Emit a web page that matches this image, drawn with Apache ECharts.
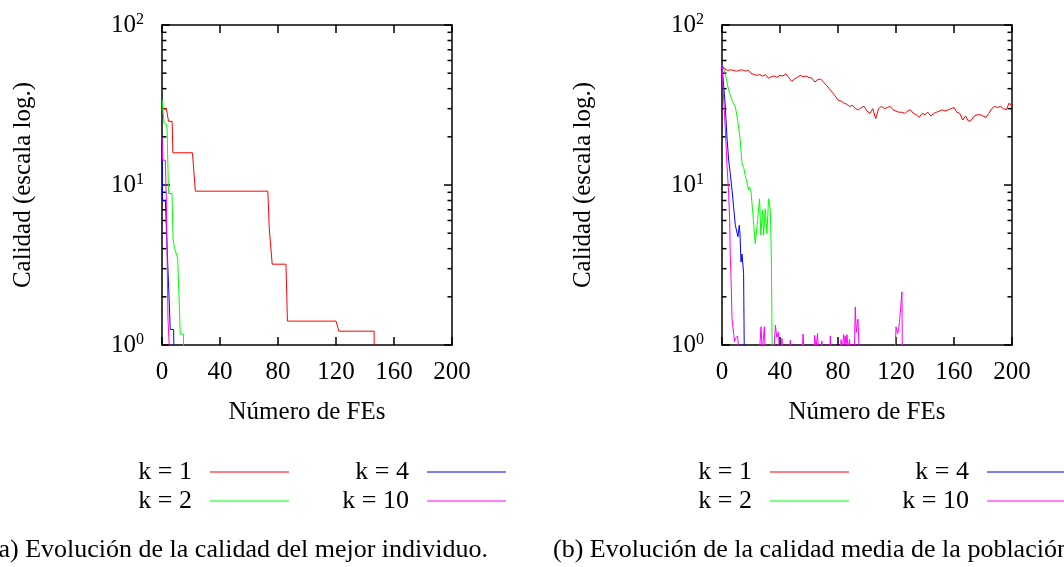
<!DOCTYPE html>
<html>
<head>
<meta charset="utf-8">
<script src="https://cdn.jsdelivr.net/npm/echarts@6/dist/echarts.min.js"></script>
<style>
html,body{margin:0;padding:0;background:#fff;}
#chart{width:1064px;height:567px;}
</style>
</head>
<body>
<div id="chart"></div>
<script>
// ---------- data ----------
const seriesNames = ['k = 1', 'k = 2', 'k = 4', 'k = 10'];
const seriesColors = ['#ff0000', '#00ff00', '#0000ff', '#ff00ff'];
const xAxisName = 'Número de FEs';
const yAxisName = 'Calidad (escala log.)';
const captionA = '(a) Evolución de la calidad del mejor individuo.';
const captionB = '(b) Evolución de la calidad media de la población.';
const minorTickValues = [2,3,4,5,6,7,8,9,20,30,40,50,60,70,80,90];

// (a) best individual  [FEs, quality]
const bestK1 = [[0,30],[3,30],[4.5,25],[7,25],[7.5,15.9],[21,15.9],[23,9.15],[73,9.15],[74,5.3],[75,5.3],[76,3.2],[85.5,3.2],[86.5,1.41],[120,1.41],[122,1.22],[146.3,1.22],[146.5,0.5]];
const bestK2 = [[0,34],[1.5,24.2],[3,24],[3.5,22.5],[4.5,8.85],[6.9,8.85],[7.6,4.6],[8.7,4.0],[9.9,3.9],[10.8,3.5],[12.6,1.17],[14.8,1.17],[15,0.5]];
const bestK4 = [[0,20],[0.4,8],[2.3,8],[5.7,1.25],[8,1.25],[8.7,0.5]];
const bestK10 = [[0,20],[0.5,14.3],[2.3,14.3],[3,8.0],[3.4,8.0],[4.1,1.48],[5.3,1.48],[6.4,0.5]];

// (b) population mean
const avgK1 = [[0,56],[2,53],[4,52],[6,52.5],[8,52],[10,51.5],[12,52],[14,52.5],[16,51.5],[18,52],[20,50],[22,49],[24,48.5],[26,49],[28,48],[30,49],[32,46.5],[34,47.5],[36,48],[38,47],[40,48.5],[42,48],[44,49.5],[46,47],[48,44.5],[50,46],[52,47],[54,48.5],[56,47.5],[58,48],[60,47],[62,46.5],[64,44],[66,45.5],[68,46],[70,44],[72,42],[74,40],[76,38],[78,36],[80,34],[82,33.5],[84,32.5],[86,32],[88,31],[90,31.5],[92,30],[94,29.5],[96,30.5],[98,31],[100,29],[102,28],[104,30],[106,26],[108,30],[110,31],[112,30],[114,30.5],[116,31],[118,29.5],[120,29],[122,28.5],[124,28.5],[126,28],[128,29],[130,29.5],[132,28],[134,27.5],[136,26.5],[138,28],[140,27.5],[142,28.5],[144,27],[146,28],[148,28.5],[150,29],[152,29.5],[154,29],[156,29.5],[158,30],[160,30.5],[162,28.5],[164,28],[166,25.5],[168,27],[170,25],[172,25.5],[174,27],[176,27.5],[178,27.5],[180,27],[182,26.5],[184,28],[186,30],[188,31],[190,30.5],[192,31],[194,30],[196,29.5],[198,32.5],[200,31]];
const avgK2 = [[0,56.5],[2.3,49.7],[4.6,39],[6.9,33.9],[9.2,30.8],[10.8,25.4],[12.6,19],[13.8,13.6],[14.9,12.9],[16,11.5],[17.2,11.2],[18.4,9.3],[19,9.7],[20,9.1],[21.3,6.6],[22.9,4.3],[23.6,4.3],[24.5,6.0],[25.9,8.2],[26.8,4.86],[28,6.96],[28.7,4.86],[29.8,7.1],[31,4.97],[32.1,8.2],[33.3,7],[34,3.7],[34.9,0.5]];
const avgK4 = [[0,56.5],[2.3,30.8],[3.4,20],[4.6,14.3],[5.7,11.8],[6.9,9.3],[8,7.3],[9.2,5.6],[10.3,5.5],[11,4.75],[11.9,5.6],[12.4,5],[13.1,3.3],[13.8,3.7],[14.2,3.7],[14.9,2.8],[15.6,0.5]];
const avgK10 = [[0,56.5],[1.1,35.5],[2.3,22],[3.4,13.6],[4.6,8.8],[5.3,6.0],[5.7,3.7],[6.4,2.3],[6.9,1.47],[8,1.18],[8.7,1.05],[9.3,1.1],[9.9,1.13],[10.8,1.14],[11.9,0.8],
 [25.5,0.8],[26.9,1.3],[27.8,0.9],[29.2,1.3],[30,0.8],
 [35.5,0.8],[36.8,1.33],[37.8,1.12],[39,1.2],[39.7,0.8],[40.8,0.9],[41.4,1.1],[42,0.8],
 [46.4,0.8],[47.1,1.07],[47.8,0.8],
 [55,0.8],[55.9,1.17],[56.8,0.8],
 [63,0.8],[63.9,1.15],[64.8,0.95],[65.9,1.18],[66.9,0.8],[68.3,0.9],[68.9,1.06],[69.5,0.8],
 [74,0.8],[74.7,1.14],[75.4,0.8],
 [81.4,0.8],[82.1,1.08],[83,0.95],[83.9,1.16],[84.5,1.02],[85,1.14],[85.6,1.0],[86.2,1.16],[87,0.95],[88,1.08],[88.7,0.8],
 [91.2,0.8],[91.9,1.73],[92.6,1.2],[93.8,1.45],[94.7,0.8],
 [119.3,0.8],[120,1.3],[121,1.18],[121.8,1.24],[123,1.6],[124.1,2.15],[124.4,0.8],[200,0.8]];

const panelData = [[bestK1, bestK2, bestK4, bestK10], [avgK1, avgK2, avgK4, avgK10]];

// ---------- options ----------
const FONT = "'Liberation Serif', 'DejaVu Serif', serif";
const FS = 25;
const LEG_FS = 26;
const CAP_FS = 26;
const gridLefts = [162, 722];
const grids = gridLefts.map(l => ({left: l, top: 25, width: 290, height: 320, show: false}));

const lineStyleAxis = {color: '#000', width: 1.5};
const xAxes = [], yAxes = [], series = [];
grids.forEach((g, gi) => {
  xAxes.push({
    gridIndex: gi, type: 'value', min: 0, max: 200, interval: 40, position: 'bottom',
    axisLine: {show: true, onZero: false, lineStyle: lineStyleAxis},
    axisTick: {show: true, inside: true, length: 8, lineStyle: lineStyleAxis},
    axisLabel: {margin: 15, fontFamily: FONT, fontSize: FS, color: '#000'},
    splitLine: {show: false},
    name: xAxisName, nameLocation: 'middle', nameGap: 55,
    nameTextStyle: {fontFamily: FONT, fontSize: FS, color: '#000'}
  });
  xAxes.push({
    gridIndex: gi, type: 'value', min: 0, max: 200, interval: 40, position: 'top',
    axisLine: {show: true, onZero: false, lineStyle: lineStyleAxis},
    axisTick: {show: true, inside: true, length: 8, lineStyle: lineStyleAxis},
    axisLabel: {show: false}, splitLine: {show: false}
  });
  yAxes.push({
    gridIndex: gi, type: 'log', logBase: 10, min: 1, max: 100, position: 'left',
    axisLine: {show: true, onZero: false, lineStyle: lineStyleAxis},
    axisTick: {show: true, inside: true, length: 8, lineStyle: lineStyleAxis},
    axisLabel: {
      margin: 18,
      formatter: v => '{a|10}{b|' + Math.round(Math.log10(v)) + '}',
      rich: {
        a: {fontFamily: FONT, fontSize: FS, color: '#000', lineHeight: 26},
        b: {fontFamily: FONT, fontSize: 16, color: '#000', verticalAlign: 'top', lineHeight: 12}
      }
    },
    splitLine: {show: false},
    name: yAxisName, nameLocation: 'middle', nameGap: 126, nameRotate: 90,
    nameTextStyle: {fontFamily: FONT, fontSize: FS, color: '#000'}
  });
  yAxes.push({
    gridIndex: gi, type: 'log', logBase: 10, min: 1, max: 100, position: 'right',
    axisLine: {show: true, onZero: false, lineStyle: lineStyleAxis},
    axisTick: {show: true, inside: true, length: 8, lineStyle: lineStyleAxis},
    axisLabel: {show: false}, splitLine: {show: false}
  });

  panelData[gi].forEach((d, si) => {
    series.push({
      type: 'line', name: seriesNames[si], xAxisIndex: gi * 2, yAxisIndex: gi * 2,
      data: d, showSymbol: false, symbol: 'none', clip: true,
      lineStyle: {color: seriesColors[si], width: 1}, itemStyle: {color: seriesColors[si]},
      animation: false, silent: true
    });
  });

  series.push({
    type: 'custom', name: 'minor', xAxisIndex: gi * 2, yAxisIndex: gi * 2,
    data: minorTickValues.map(v => [0, v]), encode: {x: 0, y: 1},
    silent: true, animation: false, clip: false,
    renderItem: (params, api) => {
      const v = api.value(1);
      const pL = api.coord([0, v]);
      const pR = api.coord([200, v]);
      return {type: 'group', children: [
        {type: 'line', shape: {x1: pL[0], y1: pL[1], x2: pL[0] + 4.5, y2: pL[1]}, style: {stroke: '#000', lineWidth: 1.5}},
        {type: 'line', shape: {x1: pR[0] - 4.5, y1: pR[1], x2: pR[0], y2: pR[1]}, style: {stroke: '#000', lineWidth: 1.5}}
      ]};
    }
  });
});

function legendItem(name, right, top) {
  return {
    data: [{name: name, icon: 'rect'}], right: right, top: top, align: 'right',
    orient: 'horizontal', padding: 0, itemWidth: 79, itemHeight: 1, selectedMode: false,
    textStyle: {fontFamily: FONT, fontSize: LEG_FS, color: '#000', lineHeight: 28, padding: [0, 13, 0, 0]}
  };
}
const row1 = 458, row2 = 487;
const legends = [];
[0, 560].forEach(off => {
  legends.push(legendItem(seriesNames[0], 775 - off, row1));
  legends.push(legendItem(seriesNames[1], 775 - off, row2));
  legends.push(legendItem(seriesNames[2], 558 - off, row1));
  legends.push(legendItem(seriesNames[3], 558 - off, row2));
});

const option = {
  animation: false,
  backgroundColor: '#fff',
  grid: grids,
  xAxis: xAxes,
  yAxis: yAxes,
  legend: legends,
  series: series,
  graphic: [
    {type: 'text', x: 488, y: 550, style: {text: captionA, align: 'right', verticalAlign: 'middle', fontFamily: FONT, fontSize: CAP_FS, fill: '#000'}},
    {type: 'text', x: 553, y: 550, style: {text: captionB, align: 'left', verticalAlign: 'middle', fontFamily: FONT, fontSize: CAP_FS, fill: '#000'}}
  ]
};

const chart = echarts.init(document.getElementById('chart'), null, {renderer: 'canvas'});
chart.setOption(option);
</script>
</body>
</html>
